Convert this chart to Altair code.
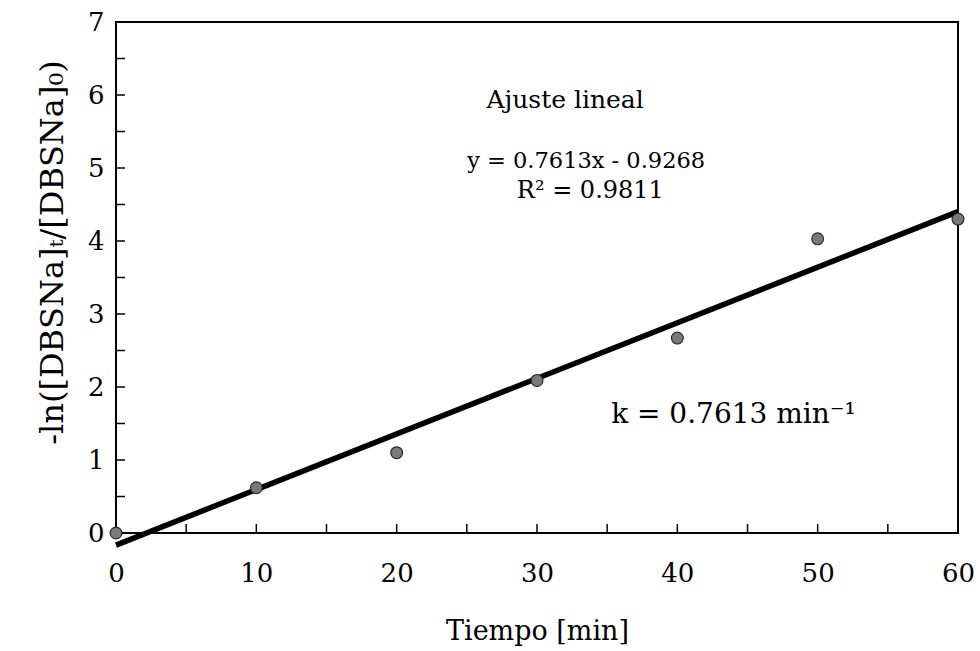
import altair as alt
import pandas as pd

# Data
tiempo = [0, 10, 20, 30, 40, 50, 60]
valores = [0.0, 0.62, 1.10, 2.09, 2.67, 4.03, 4.30]
pendiente = 0.7613
intercepto = -0.9268
x_ticks_in = [5, 10, 15, 20, 25, 30, 35, 40, 45, 50, 55]
y_ticks_in = [0.5, 1, 1.5, 2, 2.5, 3, 3.5, 4, 4.5, 5, 5.5, 6, 6.5]
x_labels = [0, 10, 20, 30, 40, 50, 60]
y_labels = [0, 1, 2, 3, 4, 5, 6, 7]

W, H = 842, 511
FONT = "DejaVu Serif"

df = pd.DataFrame({"t": tiempo, "v": valores})
# fit line (equation uses x = t/10 + 1)
fit = pd.DataFrame({
    "t": [tiempo[0], tiempo[-1]],
    "v": [pendiente * (tiempo[0] / 10 + 1) + intercepto,
          pendiente * (tiempo[-1] / 10 + 1) + intercepto],
})

xs = alt.Scale(domain=[0, 60], nice=False, zero=False)
ys = alt.Scale(domain=[0, 7], nice=False, zero=False)

x_axis = alt.Axis(values=x_labels, format="d", tickSize=0, labelPadding=27, labelFontSize=26,
                  labelFont=FONT, labelColor="black", labelFlush=False, domain=False, grid=False,
                  title="Tiempo [min]", titleFont=FONT, titleFontSize=27,
                  titleFontWeight="normal", titlePadding=32, titleColor="black")
y_axis = alt.Axis(values=y_labels, format="d", tickSize=0, labelPadding=12, labelFontSize=26,
                  labelFont=FONT, labelColor="black", labelFlush=False, domain=False, grid=False,
                  title="-ln([DBSNa]ₜ/[DBSNa]₀)", titleFont=FONT, titleFontSize=32,
                  titleFontWeight="normal", titlePadding=18, titleColor="black",
                  titleY=230)

base_axes = alt.Chart(df).mark_point(opacity=0).encode(
    x=alt.X("t:Q", scale=xs, axis=x_axis),
    y=alt.Y("v:Q", scale=ys, axis=y_axis),
)

xt = alt.Chart(pd.DataFrame({"t": x_ticks_in})).mark_rule(color="black", strokeWidth=1.5).encode(
    x=alt.X("t:Q", scale=xs), y=alt.value(H), y2=alt.value(H - 9))
yt = alt.Chart(pd.DataFrame({"v": y_ticks_in})).mark_rule(color="black", strokeWidth=1.5).encode(
    y=alt.Y("v:Q", scale=ys), x=alt.value(0), x2=alt.value(9))

line = alt.Chart(fit).mark_line(color="black", strokeWidth=5.5, clip=False).encode(
    x=alt.X("t:Q", scale=xs), y=alt.Y("v:Q", scale=ys))

pts = alt.Chart(df).mark_circle(size=140, color="#7a7a7a", stroke="#2a2a2a",
                                strokeWidth=1.2, opacity=1, clip=False).encode(
    x=alt.X("t:Q", scale=xs), y=alt.Y("v:Q", scale=ys))

textos = pd.DataFrame({
    "t": [32.0, 33.5, 33.8],
    "v": [5.93, 5.10, 4.69],
    "txt": ["Ajuste lineal", "y = 0.7613x - 0.9268", "R² = 0.9811"],
    "fs": [25, 22.5, 24],
})
ann = alt.Chart(textos).mark_text(font=FONT, color="black", align="center",
                                  baseline="middle").encode(
    x=alt.X("t:Q", scale=xs), y=alt.Y("v:Q", scale=ys), text="txt:N",
    size=alt.Size("fs:Q", scale=None, legend=None))

texto_k = pd.DataFrame({"t": [44.0], "v": [1.62], "txt": ["k = 0.7613 min⁻¹"]})
ann_k = alt.Chart(texto_k).mark_text(font=FONT, fontSize=28, color="black", align="center",
                                     baseline="middle").encode(
    x=alt.X("t:Q", scale=xs), y=alt.Y("v:Q", scale=ys), text="txt:N")

chart = alt.layer(base_axes, xt, yt, line, pts, ann, ann_k).properties(
    width=W, height=H, background="white",
    padding={"left": 116, "top": 22, "right": 22, "bottom": 118},
    autosize=alt.AutoSizeParams(type="none"),
).configure_view(stroke="black", strokeWidth=2)

chart.save("out.html", embed_options={"renderer": "svg", "actions": False})
